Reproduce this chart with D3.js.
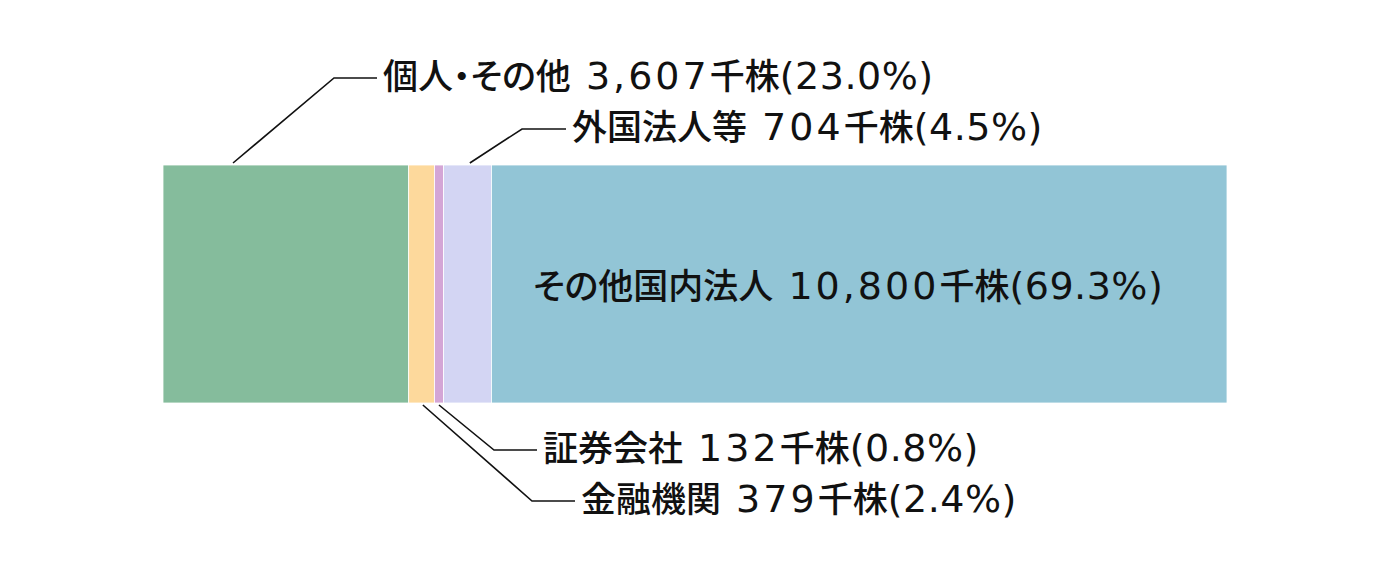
<!DOCTYPE html>
<html><head><meta charset="utf-8">
<script src="https://cdn.jsdelivr.net/npm/d3@7"></script>
<style>
html,body{margin:0;padding:0;background:#fff;}
svg{display:block;}
text{font-family:"Noto Sans CJK JP","Noto Sans",sans-serif;font-weight:500;fill:#111;font-size:35px;}
tspan.cjk{font-feature-settings:"palt" 1;}
tspan.num{font-family:"DejaVu Sans",sans-serif;font-weight:400;font-size:38px;letter-spacing:3px;}
tspan.pct{font-family:"DejaVu Sans",sans-serif;font-weight:400;font-size:38px;letter-spacing:0.5px;}
</style></head>
<body>
<svg id="chart" width="1391" height="583"></svg>
<script>
// data
const categories = ["個人・その他", "金融機関", "証券会社", "外国法人等", "その他国内法人"];
const shares = [3607, 379, 132, 704, 10800]; // 千株
const percents = [23.0, 2.4, 0.8, 4.5, 69.3];
const unit = "千株";
const colors = ["#85bc9c", "#fdd99c", "#d4a6d6", "#d3d5f3", "#92c5d6"];

const svg = d3.select("#chart");
const barTop = 165, barBottom = 403;
const total = d3.sum(shares);
const x = d3.scaleLinear().domain([0, total]).range([163, 1227]);

let cum = 0;
const segs = categories.map((c, i) => {
  const s = {cat: c, v: shares[i], p: percents[i], color: colors[i], x0: cum, x1: cum + shares[i]};
  cum += shares[i];
  return s;
});

svg.append("g").selectAll("rect").data(segs).join("rect")
  .attr("x", d => x(d.x0))
  .attr("y", barTop)
  .attr("width", d => x(d.x1) - x(d.x0))
  .attr("height", barBottom - barTop)
  .attr("fill", d => d.color)
  .attr("stroke", "#fff")
  .attr("stroke-width", 0.8);

const fmt = d3.format(",");
function writeLabel(t, d) {
  t.append("tspan").attr("class", "cjk").text(d.cat);
  t.append("tspan").attr("class", "num").text(" " + fmt(d.v));
  t.append("tspan").text(unit);
  t.append("tspan").attr("class", "pct").text(`(${d.p.toFixed(1)}%)`);
}

// leader layout: segment index, fraction along segment, side, elbow point, line end x
const leaders = [
  {i: 0, f: 0.285, top: true, ex: 334, ey: 78, lx: 377},
  {i: 3, f: 0.55, top: true, ex: 522, ey: 129, lx: 566},
  {i: 2, f: 0.5, top: false, ex: 494, ey: 450, lx: 537},
  {i: 1, f: 0.55, top: false, ex: 532, ey: 501, lx: 575}
];

const lg = svg.append("g");
leaders.forEach(L => {
  const d = segs[L.i];
  const sx = x(d.x0) + (x(d.x1) - x(d.x0)) * L.f;
  const sy = L.top ? barTop - 2 : barBottom + 2;
  lg.append("polyline")
    .attr("points", [[sx, sy], [L.ex, L.ey], [L.lx, L.ey]].map(p => p.join(",")).join(" "))
    .attr("fill", "none")
    .attr("stroke", "#111")
    .attr("stroke-width", 1.6);
  const t = lg.append("text")
    .attr("x", L.lx + 6)
    .attr("y", L.ey + 11);
  writeLabel(t, d);
});

// label inside the largest segment
const tc = svg.append("text")
  .attr("x", 533)
  .attr("y", (barTop + barBottom) / 2 + 15);
writeLabel(tc, segs[4]);
</script>
</body></html>
